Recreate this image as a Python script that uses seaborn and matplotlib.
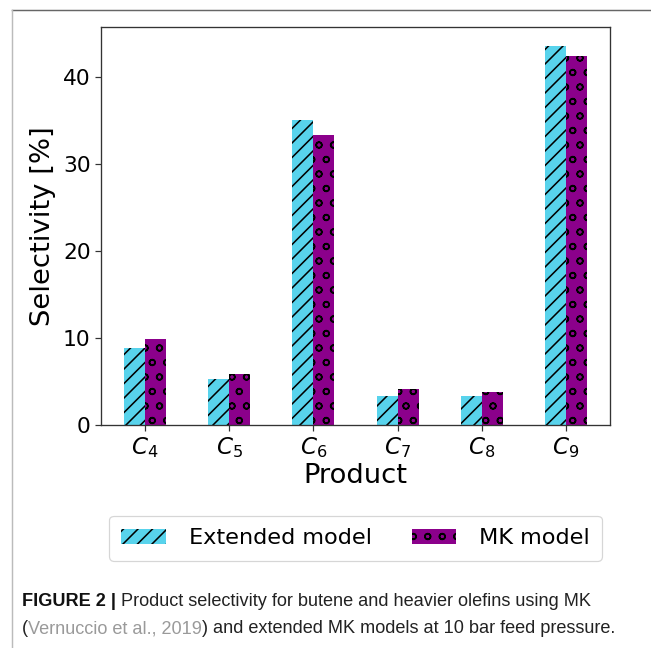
import matplotlib
matplotlib.use("Agg")
import matplotlib.pyplot as plt
from matplotlib.lines import Line2D
import seaborn as sns
import pandas as pd

# Selectivity [%] per product for the two kinetic models
products = ["$C_4$", "$C_5$", "$C_6$", "$C_7$", "$C_8$", "$C_9$"]
extended_model = [8.85, 5.3, 35.05, 3.35, 3.35, 43.6]
mk_model = [9.9, 5.85, 33.3, 4.15, 3.75, 42.5]
models = ["Extended model", "MK model"]
model_colors = ["#58D3EC", "#8B008B"]
model_hatches = ["//", "o"]

caption_parts = [
    ("FIGURE 2 |", "bold", "#111111"),
    (" Product selectivity for butene and heavier olefins using MK", "normal", "#222222"),
]
caption_parts_2 = [
    ("(", "normal", "#222222"),
    ("Vernuccio et al., 2019", "normal", "#9a9a9a"),
    (") and extended MK models at 10 bar feed pressure.", "normal", "#222222"),
]

df = pd.DataFrame({
    "Product": products * 2,
    "Selectivity": extended_model + mk_model,
    "Model": [models[0]] * len(products) + [models[1]] * len(products),
})

plt.rcParams["hatch.linewidth"] = 1.3
plt.rcParams["font.family"] = ["DejaVu Sans"]

DPI = 87
fig = plt.figure(figsize=(651 / DPI, 648 / DPI), dpi=DPI)
ax = fig.add_axes([101 / 651, 1 - 425 / 648, 509 / 651, 398 / 648])

sns.barplot(data=df, x="Product", y="Selectivity", hue="Model",
            palette=model_colors, width=0.5, gap=0, dodge=True,
            legend=False, ax=ax, errorbar=None)

for container, hatch, color in zip(ax.containers, model_hatches, model_colors):
    for bar in container:
        bar.set_facecolor(color)
        bar.set_edgecolor("black")   # hatch colour follows edge colour
        bar.set_linewidth(0)
        bar.set_hatch(hatch)

ax.set_xlim(-0.525, len(products) - 0.475)
ax.set_yticks([0, 10, 20, 30, 40])
ax.tick_params(axis="both", labelsize=18, length=5, width=1, color="#333333")
ax.tick_params(axis="x", labelsize=19)
ax.set_xlabel("Product", fontsize=22.7, labelpad=2)
ax.set_ylabel("Selectivity [%]", fontsize=22.7, labelpad=6)
for s in ax.spines.values():
    s.set_color("#333333")
    s.set_linewidth(1.1)

ax.legend(handles=list(ax.containers), labels=models, ncol=2,
          loc="upper center", bbox_to_anchor=(355.5 / 651, 1 - 516 / 648),
          bbox_transform=fig.transFigure, borderaxespad=0,
          fontsize=18.5, handletextpad=1.0, columnspacing=1.8,
          borderpad=0.55, frameon=True, edgecolor="#cccccc")

# Page frame around the figure panel
fig.add_artist(Line2D([12 / 651, 1], [1 - 10 / 648, 1 - 10 / 648],
                      transform=fig.transFigure, color="#666666", lw=1.2))
fig.add_artist(Line2D([12 / 651, 12 / 651], [0, 1 - 10 / 648],
                      transform=fig.transFigure, color="#bbbbbb", lw=1.2))

# Caption, two lines of mixed-style text
cap_font = ["Liberation Sans", "DejaVu Sans"]
cap_size = 15


def write_line(parts, y):
    prev = None
    for text, weight, color in parts:
        if prev is None:
            prev = fig.text(22 / 651, y, text, fontsize=cap_size, family=cap_font,
                            weight=weight, color=color, va="bottom", ha="left")
        else:
            prev = ax.annotate(text, xy=(1, 0), xycoords=prev, va="bottom", ha="left",
                               fontsize=cap_size, family=cap_font, weight=weight,
                               color=color, annotation_clip=False)
    return prev


write_line(caption_parts, 1 - 610 / 648)
write_line(caption_parts_2, 1 - 637 / 648)

fig.savefig("out.png", dpi=DPI)
